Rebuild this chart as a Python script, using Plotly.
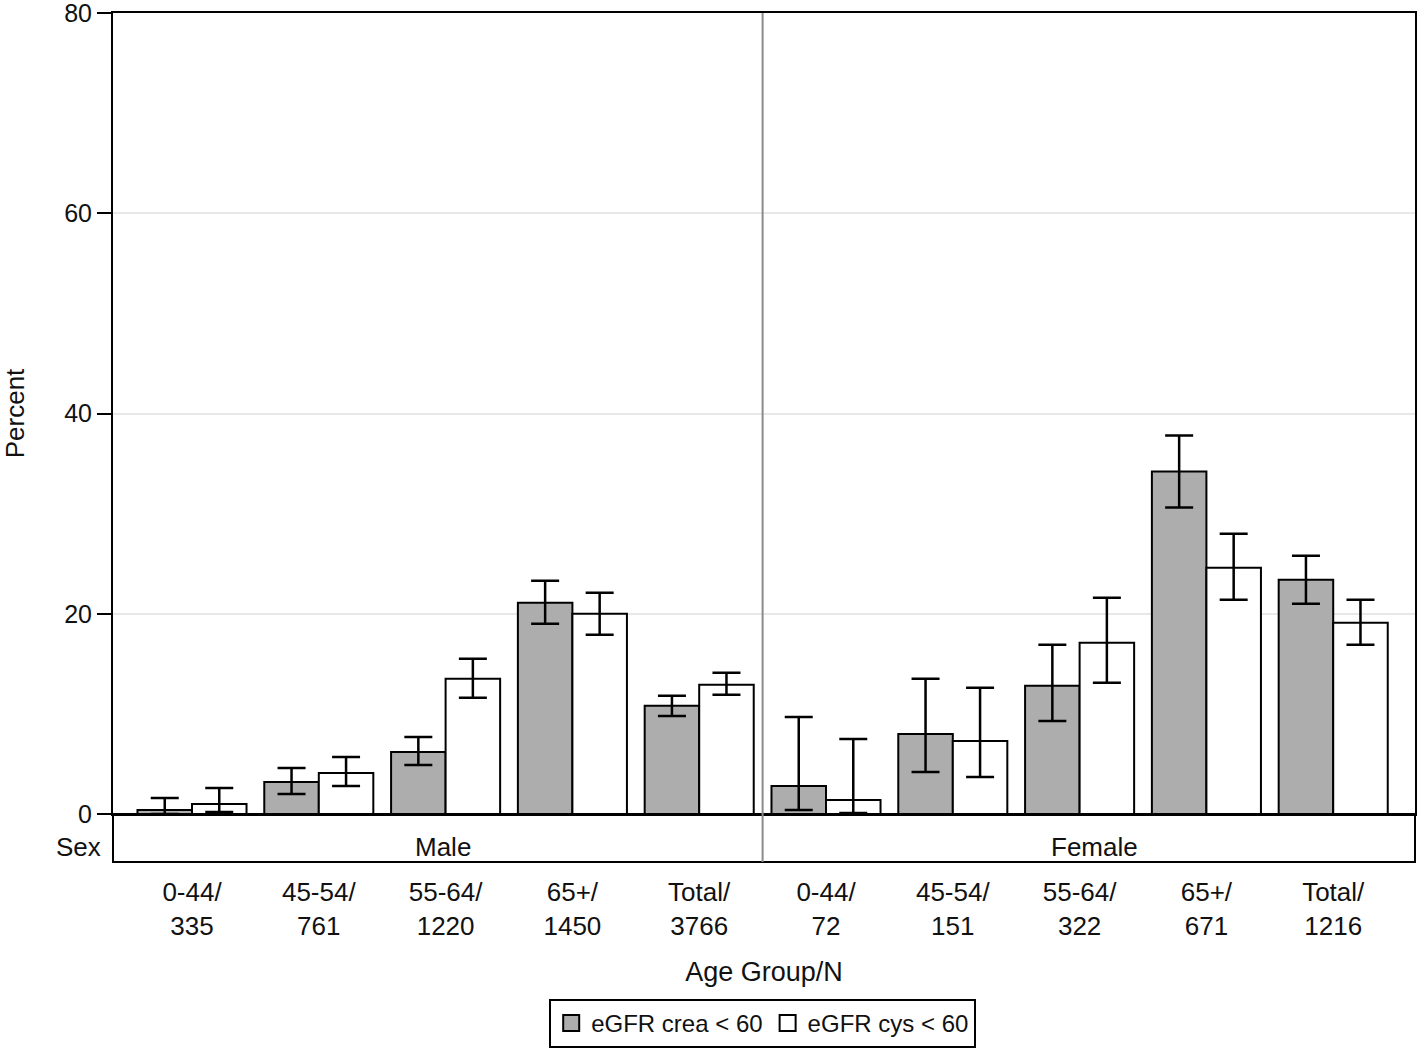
import plotly.graph_objects as go

# ---- data ----
age_groups = ["0-44", "45-54", "55-64", "65+", "Total"]
n_male = [335, 761, 1220, 1450, 3766]
n_female = [72, 151, 322, 671, 1216]

male_crea = [0.4, 3.2, 6.2, 21.1, 10.8]
male_crea_hi = [1.6, 4.6, 7.7, 23.3, 11.8]
male_crea_lo = [0.0, 2.0, 4.9, 19.0, 9.8]

male_cys = [1.0, 4.1, 13.5, 20.0, 12.9]
male_cys_hi = [2.6, 5.7, 15.5, 22.1, 14.1]
male_cys_lo = [0.2, 2.8, 11.6, 17.9, 11.9]

female_crea = [2.8, 8.0, 12.8, 34.2, 23.4]
female_crea_hi = [9.7, 13.5, 16.9, 37.8, 25.8]
female_crea_lo = [0.4, 4.2, 9.3, 30.6, 21.0]

female_cys = [1.4, 7.3, 17.1, 24.6, 19.1]
female_cys_hi = [7.5, 12.6, 21.6, 28.0, 21.4]
female_cys_lo = [0.1, 3.7, 13.1, 21.4, 16.9]

y_ticks = [0, 20, 40, 60, 80]
series_names = ["eGFR crea < 60", "eGFR cys < 60"]

# ---- build ----
labels = [f"{a}/<br>{n}" for a, n in zip(age_groups, n_male)] + \
         [f"{a}/<br>{n}" for a, n in zip(age_groups, n_female)]
xpos = list(range(len(labels)))

crea = male_crea + female_crea
crea_hi = male_crea_hi + female_crea_hi
crea_lo = male_crea_lo + female_crea_lo
cys = male_cys + female_cys
cys_hi = male_cys_hi + female_cys_hi
cys_lo = male_cys_lo + female_cys_lo

FONT = "Liberation Sans, Arial, sans-serif"
GREY = "#adadad"
FS = 26

def err(v, hi, lo):
    return dict(type="data", symmetric=False,
                array=[h - x for x, h in zip(v, hi)],
                arrayminus=[x - l for x, l in zip(v, lo)],
                color="black", thickness=2.5, width=14)

fig = go.Figure()
fig.add_trace(go.Bar(x=xpos, y=crea, name=series_names[0], showlegend=False,
                     marker=dict(color=GREY, line=dict(color="black", width=2)),
                     error_y=err(crea, crea_hi, crea_lo)))
fig.add_trace(go.Bar(x=xpos, y=cys, name=series_names[1], showlegend=False,
                     marker=dict(color="white", line=dict(color="black", width=2)),
                     error_y=err(cys, cys_hi, cys_lo)))
# legend entries
for name, col in zip(series_names, [GREY, "white"]):
    fig.add_trace(go.Scatter(x=[None], y=[None], mode="markers", name=name,
                             marker=dict(symbol="square", size=22, color=col,
                                         line=dict(color="black", width=2))))

band_h = 48 / 801.0
lab_y = -33 / 801.0

fig.update_layout(
    width=1418, height=1051,
    margin=dict(l=113, r=3, t=13, b=237, autoexpand=False),
    paper_bgcolor="white", plot_bgcolor="white",
    barmode="group", bargap=0.14, bargroupgap=0,
    font=dict(family=FONT, size=FS, color="#111"),
    legend=dict(orientation="h", x=0.499, xanchor="center", y=-0.2921, yanchor="bottom",
                bordercolor="black", borderwidth=2, font=dict(size=24),
                itemsizing="trace", tracegroupgap=0),
    xaxis=dict(range=[-0.623, 9.645], tickvals=xpos, ticktext=labels,
               showgrid=False, ticks="", showline=True, mirror=True,
               linecolor="black", linewidth=2, ticklabelstandoff=54,
               tickfont=dict(size=FS), automargin=False,
               title=dict(text="Age Group/N", standoff=22, font=dict(size=27)),
               zeroline=False),
    yaxis=dict(range=[0, 80], tickvals=y_ticks, showgrid=True, gridcolor="#e8e8e8",
               gridwidth=2, ticks="outside", ticklen=14, tickwidth=2,
               tickcolor="black", showline=True, mirror=True, linecolor="black",
               linewidth=2, zeroline=False, tickfont=dict(size=25),
               ticklabeloverflow="allow", automargin=False,
               title=dict(text="Percent", standoff=33, font=dict(size=FS))),
    shapes=[
        dict(type="rect", xref="paper", yref="paper", x0=0, x1=1, y0=-band_h, y1=0,
             line=dict(color="black", width=2), fillcolor="rgba(0,0,0,0)", layer="above"),
        dict(type="line", xref="x", yref="paper", x0=4.5, x1=4.5, y0=-band_h, y1=1,
             line=dict(color="#8a8a8a", width=2), layer="above"),
    ],
    annotations=[
        dict(text="Sex", xref="paper", yref="paper", x=-0.008, y=lab_y,
             xanchor="right", yanchor="middle", showarrow=False, font=dict(size=FS)),
        dict(text="Male", xref="x", yref="paper", x=1.98, y=lab_y,
             xanchor="center", yanchor="middle", showarrow=False, font=dict(size=FS)),
        dict(text="Female", xref="x", yref="paper", x=7.12, y=lab_y,
             xanchor="center", yanchor="middle", showarrow=False, font=dict(size=FS)),
    ],
)

fig.write_html("out.html", config={"displayModeBar": False},
               post_script="document.body.style.margin='0';document.body.style.overflow='hidden';")
